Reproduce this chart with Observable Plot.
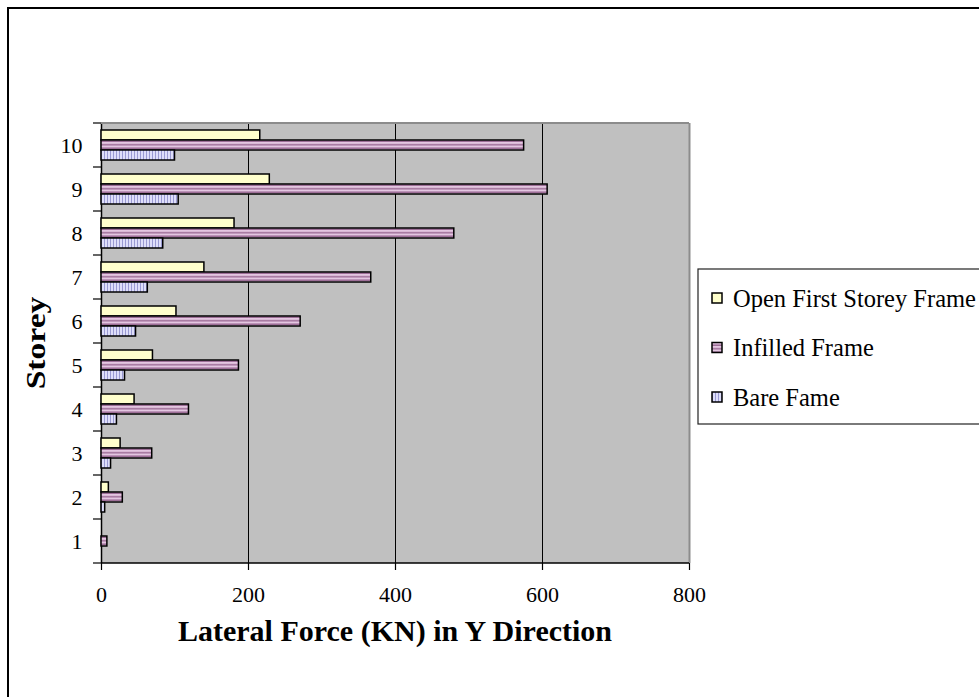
<!DOCTYPE html>
<html>
<head>
<meta charset="utf-8">
<script src="https://cdn.jsdelivr.net/npm/d3@7"></script>
<script src="https://cdn.jsdelivr.net/npm/@observablehq/plot@0.6"></script>
<style>
  html, body { margin: 0; padding: 0; background: #fff; overflow: hidden; }
  #wrap { position: relative; width: 979px; height: 697px; overflow: hidden; }
  #border { position: absolute; left: 7px; top: 7px; width: 1000px; height: 720px; border: 2px solid #000; box-sizing: border-box; }
  #wrap svg { position: absolute; left: 0; top: 0; }
</style>
</head>
<body>
<div id="wrap"><div id="border"></div></div>
<script>
// Storey numbers, bottom to top
const storeys = [1, 2, 3, 4, 5, 6, 7, 8, 9, 10];
const seriesNames = ["Open First Storey Frame", "Infilled Frame", "Bare Fame"];
// Lateral force (kN) per storey, Y direction
const openFirstStorey = [0, 10, 26, 45, 70, 102, 140, 181, 229, 216];
const infilledFrame = [8, 29, 69, 119, 187, 271, 367, 480, 607, 575];
const bareFrame = [0, 5, 13, 21, 32, 47, 63, 84, 105, 100];
const xTicks = [0, 200, 400, 600, 800];
const seriesFills = ["#ffffcc", "url(#stripe-h)", "url(#stripe-v)"];
const xTitle = "Lateral Force (KN) in Y Direction";
const yTitle = "Storey";

const values = [openFirstStorey, infilledFrame, bareFrame];
const rows = storeys.flatMap((s, i) =>
  seriesNames.map((name, j) => ({storey: s, series: name, value: values[j][i]}))
);

const serif = "'Liberation Serif', 'Times New Roman', serif";

const plot = Plot.plot({
  width: 979,
  height: 697,
  marginLeft: 101,
  marginRight: 290,
  marginTop: 121,
  marginBottom: 132,
  style: {fontFamily: serif, fontSize: "22px", color: "#000", background: "transparent", overflow: "visible"},
  x: {domain: [0, 800]},
  y: {domain: seriesNames, paddingInner: 0, paddingOuter: 0.62, axis: null},
  fy: {domain: storeys.slice().reverse(), padding: 0},
  color: {domain: seriesNames, range: seriesFills},
  marks: [
    Plot.gridX(xTicks.slice(1, -1), {stroke: "#000", strokeOpacity: 1, strokeWidth: 1}),
    Plot.ruleX([800], {stroke: "#8c8c8c", strokeWidth: 2}),
    Plot.ruleX([0], {stroke: "#000", strokeWidth: 1.5}),
    Plot.barX(rows.filter(d => d.value > 0), {
      x: "value", y: "series", fy: "storey", fill: "series",
      stroke: "#000", strokeWidth: 1.5
    }),
    Plot.axisX(xTicks, {anchor: "bottom", tickSize: 7, tickPadding: 16, label: null, fontSize: 22, strokeWidth: 1.2}),
    Plot.axisFy({anchor: "left", tickSize: 0, tickPadding: 19, label: null, fontSize: 22})
  ]
});

const svg = d3.select(plot);

// Stripe fills for the patterned series
const defs = svg.insert("defs", ":first-child");
const ph = defs.append("pattern").attr("id", "stripe-h")
  .attr("patternUnits", "userSpaceOnUse").attr("width", 8).attr("height", 3.5);
ph.append("rect").attr("width", 8).attr("height", 3.5).attr("fill", "#e4c6e1");
ph.append("rect").attr("y", 2).attr("width", 8).attr("height", 1.5).attr("fill", "#9c6c96");
const pv = defs.append("pattern").attr("id", "stripe-v")
  .attr("patternUnits", "userSpaceOnUse").attr("width", 3).attr("height", 8);
pv.append("rect").attr("width", 3).attr("height", 8).attr("fill", "#dedefa");
pv.append("rect").attr("x", 2).attr("width", 1).attr("height", 8).attr("fill", "#9a9ad2");

// Plot-area background, edges and category tick marks, placed with the chart's own scales
const fy = plot.scale("fy");
const xs = plot.scale("x");
const fyPos = v => fy.apply(v);
const topY = fyPos(storeys[storeys.length - 1]);
const bottomY = fyPos(storeys[0]) + fy.bandwidth;
const x0 = xs.apply(0), x1 = xs.apply(800);
svg.insert("rect", "defs + *")
  .attr("x", x0).attr("y", topY).attr("width", x1 - x0).attr("height", bottomY - topY)
  .attr("fill", "#c0c0c0");
const deco = svg.append("g");
deco.append("line").attr("x1", x0).attr("x2", x1).attr("y1", topY).attr("y2", topY)
  .attr("stroke", "#8c8c8c").attr("stroke-width", 2);
deco.append("line").attr("x1", x0).attr("x2", x1).attr("y1", bottomY).attr("y2", bottomY)
  .attr("stroke", "#000").attr("stroke-width", 1.5);
const bounds = storeys.map(s => fyPos(s)).concat([bottomY]);
deco.selectAll("line.tick").data(bounds).join("line").attr("class", "tick")
  .attr("x1", x0 - 8).attr("x2", x0).attr("y1", d => d).attr("y2", d => d)
  .attr("stroke", "#000").attr("stroke-width", 1.2);

// Axis titles
svg.append("text").text(xTitle)
  .attr("x", (x0 + x1) / 2).attr("y", 630)
  .attr("text-anchor", "middle").attr("dominant-baseline", "central")
  .attr("font-family", serif).attr("font-weight", "bold").attr("font-size", 30);
svg.append("text").text(yTitle)
  .attr("transform", `translate(35,${(topY + bottomY) / 2}) rotate(-90) scale(1.2,1)`)
  .attr("text-anchor", "middle").attr("dominant-baseline", "central")
  .attr("font-family", serif).attr("font-weight", "bold").attr("font-size", 28);

// Legend
const color = plot.scale("color");
const lg = svg.append("g").attr("transform", "translate(698,269)");
lg.append("rect").attr("width", 320).attr("height", 155)
  .attr("fill", "#fff").attr("stroke", "#222").attr("stroke-width", 1.2);
color.domain.forEach((name, i) => {
  const cy = 29 + i * 49.5;
  lg.append("rect").attr("x", 14).attr("y", cy - 5).attr("width", 10).attr("height", 10)
    .attr("fill", color.apply(name)).attr("stroke", "#000").attr("stroke-width", 1.5);
  lg.append("text").text(name).attr("x", 35).attr("y", cy)
    .attr("text-anchor", "start").attr("dominant-baseline", "central")
    .attr("font-family", serif).attr("font-size", 24.5);
});

document.getElementById("wrap").appendChild(plot);
</script>
</body>
</html>
